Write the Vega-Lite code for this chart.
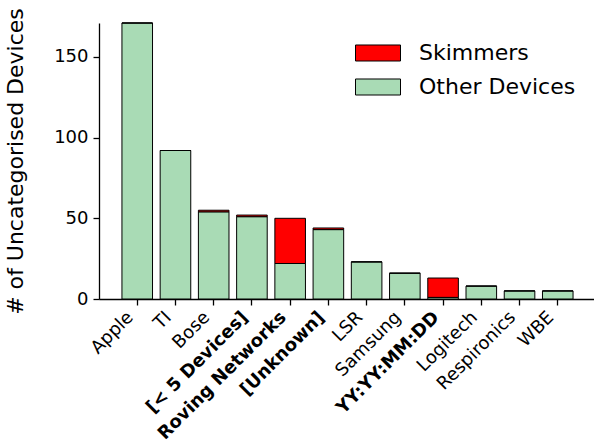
{
  "$schema": "https://vega.github.io/schema/vega-lite/v6.json",
  "autosize": {"type": "none"},
  "padding": {"left": 99, "top": 23, "right": 0, "bottom": 147},
  "width": 497,
  "height": 276,
  "config": {
    "view": {"stroke": null},
    "font": "DejaVu Sans",
    "axis": {"grid": false, "domainColor": "black", "domainWidth": 1.3, "tickColor": "black", "tickWidth": 1.3, "tickSize": 6, "labelColor": "black", "titleColor": "black", "labelFont": "DejaVu Sans", "titleFont": "DejaVu Sans"}
  },
  "data": {
    "values": [
      {"maker": "Apple", "type": "Other Devices", "count": 171},
      {"maker": "Apple", "type": "Skimmers", "count": 0},
      {"maker": "TI", "type": "Other Devices", "count": 92},
      {"maker": "TI", "type": "Skimmers", "count": 0},
      {"maker": "Bose", "type": "Other Devices", "count": 54},
      {"maker": "Bose", "type": "Skimmers", "count": 1},
      {"maker": "[< 5 Devices]", "type": "Other Devices", "count": 51},
      {"maker": "[< 5 Devices]", "type": "Skimmers", "count": 1},
      {"maker": "Roving Networks", "type": "Other Devices", "count": 22},
      {"maker": "Roving Networks", "type": "Skimmers", "count": 28},
      {"maker": "[Unknown]", "type": "Other Devices", "count": 43},
      {"maker": "[Unknown]", "type": "Skimmers", "count": 1},
      {"maker": "LSR", "type": "Other Devices", "count": 23},
      {"maker": "LSR", "type": "Skimmers", "count": 0},
      {"maker": "Samsung", "type": "Other Devices", "count": 16},
      {"maker": "Samsung", "type": "Skimmers", "count": 0},
      {"maker": "YY:YY:MM:DD", "type": "Other Devices", "count": 1},
      {"maker": "YY:YY:MM:DD", "type": "Skimmers", "count": 12},
      {"maker": "Logitech", "type": "Other Devices", "count": 8},
      {"maker": "Logitech", "type": "Skimmers", "count": 0},
      {"maker": "Respironics", "type": "Other Devices", "count": 5},
      {"maker": "Respironics", "type": "Skimmers", "count": 0},
      {"maker": "WBE", "type": "Other Devices", "count": 5},
      {"maker": "WBE", "type": "Skimmers", "count": 0}
    ]
  },
  "mark": {"type": "bar", "stroke": "black", "strokeWidth": 1},
  "encoding": {
    "x": {
      "field": "maker",
      "type": "nominal",
      "sort": null,
      "scale": {"paddingInner": 0.2, "paddingOuter": 0.6},
      "axis": {
        "title": null,
        "labelAngle": -45,
        "labelAlign": "right",
        "labelBaseline": "top",
        "labelFontSize": 18,
        "labelPadding": 3,
        "labelOffset": -13,
        "labelLimit": 0,
        "labelOverlap": false,
        "labelFontWeight": {"expr": "indexof(['[< 5 Devices]','Roving Networks','[Unknown]','YY:YY:MM:DD'], datum.value) >= 0 ? 'bold' : 'normal'"}
      }
    },
    "y": {
      "field": "count",
      "type": "quantitative",
      "stack": "zero",
      "scale": {"domain": [0, 171], "nice": false},
      "axis": {
        "values": [0, 50, 100, 150],
        "title": "# of Uncategorised Devices",
        "titleFontSize": 22,
        "titleFontWeight": "normal",
        "titlePadding": 26,
        "labelFontSize": 18,
        "labelPadding": 5
      }
    },
    "color": {
      "field": "type",
      "type": "nominal",
      "scale": {"domain": ["Skimmers", "Other Devices"], "range": ["#ff0000", "#a9dbb5"]},
      "legend": {
        "orient": "none",
        "legendX": 256,
        "legendY": 7,
        "title": null,
        "symbolType": "M-1,-0.356H1V0.356H-1Z",
        "symbolSize": 2025,
        "symbolStrokeColor": "black",
        "symbolStrokeWidth": 1,
        "symbolOpacity": 1,
        "labelFontSize": 22,
        "labelColor": "black",
        "labelOffset": 18,
        "rowPadding": -12
      }
    },
    "order": {"field": "type", "sort": "ascending"}
  }
}
